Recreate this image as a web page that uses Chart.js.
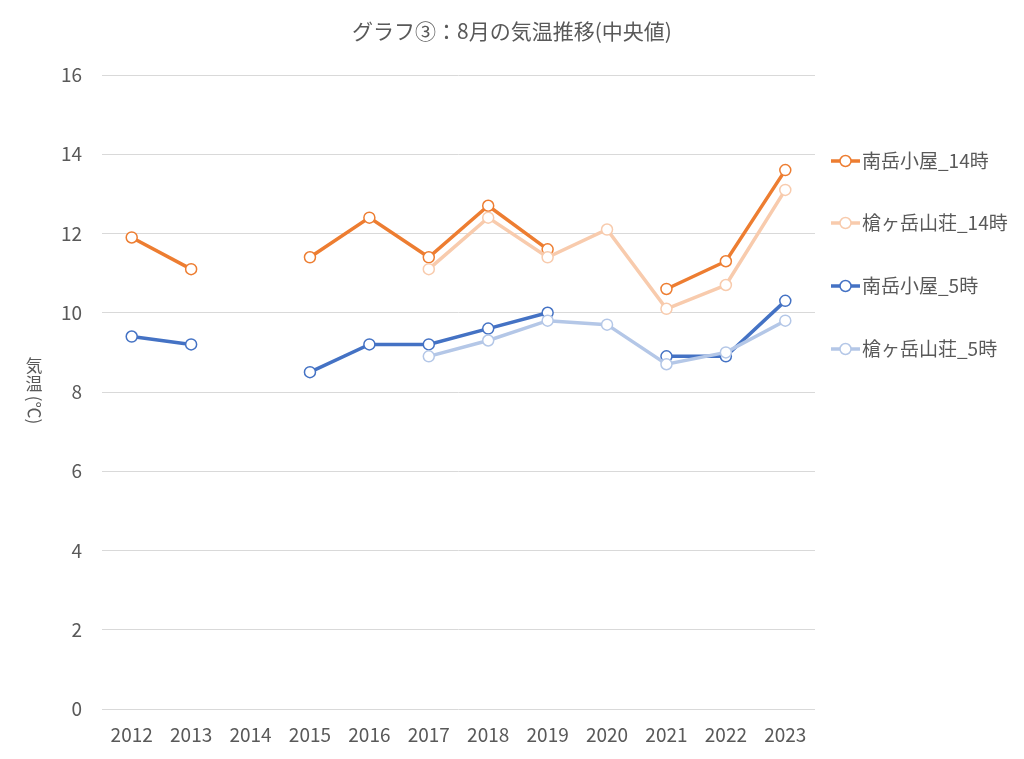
<!DOCTYPE html>
<html>
<head>
<meta charset="utf-8">
<script src="https://cdn.jsdelivr.net/npm/chart.js@4.4.0/dist/chart.umd.min.js"></script>
<style>
  html, body { margin: 0; padding: 0; background: #fff; }
  #wrap { width: 1024px; height: 759px; }
</style>
</head>
<body>
<div id="wrap"><canvas id="grafico" width="1024" height="759"></canvas></div>
<script>
// データ
const anios = ["2012","2013","2014","2015","2016","2017","2018","2019","2020","2021","2022","2023"];
const minamidake14 = [11.9, 11.1, null, 11.4, 12.4, 11.4, 12.7, 11.6, null, 10.6, 11.3, 13.6];
const yarigatake14 = [null, null, null, null, null, 11.1, 12.4, 11.4, 12.1, 10.1, 10.7, 13.1];
const minamidake5  = [9.4, 9.2, null, 8.5, 9.2, 9.2, 9.6, 10.0, null, 8.9, 8.9, 10.3];
const yarigatake5  = [null, null, null, null, null, 8.9, 9.3, 9.8, 9.7, 8.7, 9.0, 9.8];
const nombres = ["南岳小屋_14時", "槍ヶ岳山荘_14時", "南岳小屋_5時", "槍ヶ岳山荘_5時"];
const colores = ["#ED7D31", "#F8CBAD", "#4472C4", "#B4C7E7"];
const titulo = "グラフ③：8月の気温推移(中央値)";
const tituloEje = "気温(℃)";

const FUENTE = "'Noto Sans CJK JP', 'Noto Sans', sans-serif";
const GRIS = "#595959";
Chart.defaults.font.family = FUENTE;
Chart.defaults.color = GRIS;

function serie(i, datos){
    return {
        label: nombres[i],
        data: datos,
        borderColor: colores[i],
        backgroundColor: colores[i],
        borderWidth: 3.5,
        pointRadius: 5.5,
        pointHoverRadius: 5.5,
        pointBorderWidth: 1.5,
        pointBorderColor: colores[i],
        pointBackgroundColor: "#fff",
        spanGaps: false,
        tension: 0,
        order: 3 - i   // Excel: la última serie queda encima
    };
}

// Título, título del eje y leyenda dibujados a mano
const extras = {
    id: "extras",
    afterDraw(chart){
        const ctx = chart.ctx;
        ctx.save();
        ctx.fillStyle = GRIS;

        // título
        ctx.font = "21px " + FUENTE;
        ctx.textAlign = "center";
        ctx.textBaseline = "middle";
        ctx.fillText(titulo, 512, 31);

        // título eje Y (vertical)
        ctx.font = "17px " + FUENTE;
        ctx.fillText(tituloEje[0], 34, 366);
        ctx.fillText(tituloEje[1], 34, 384);
        ctx.translate(34, 410);
        ctx.rotate(Math.PI / 2);
        ctx.fillText(tituloEje.slice(2), 0, 0);
        ctx.restore();

        // leyenda
        ctx.save();
        const ys = [161, 223, 286, 349];
        chart.data.datasets.forEach((ds, i) => {
            const y = ys[i];
            ctx.strokeStyle = ds.borderColor;
            ctx.lineWidth = 3.5;
            ctx.beginPath();
            ctx.moveTo(831, y);
            ctx.lineTo(860, y);
            ctx.stroke();
            ctx.beginPath();
            ctx.arc(845.5, y, 5.5, 0, Math.PI * 2);
            ctx.fillStyle = "#fff";
            ctx.fill();
            ctx.lineWidth = 1.5;
            ctx.stroke();
            ctx.fillStyle = GRIS;
            ctx.font = "19px " + FUENTE;
            ctx.textAlign = "left";
            ctx.textBaseline = "middle";
            ctx.fillText(ds.label, 862, y);
        });
        ctx.restore();
    }
};

new Chart(document.getElementById("grafico").getContext("2d"), {
    type: "line",
    data: {
        labels: anios,
        datasets: [
            serie(0, minamidake14),
            serie(1, yarigatake14),
            serie(2, minamidake5),
            serie(3, yarigatake5)
        ]
    },
    options: {
        responsive: false,
        animation: false,
        layout: { padding: { left: 0, top: 75, right: 209, bottom: 0 } },
        plugins: {
            legend: { display: false },
            title: { display: false },
            tooltip: { enabled: false }
        },
        scales: {
            x: {
                offset: true,
                grid: { display: false, drawTicks: false },
                border: { display: false },
                ticks: { font: { size: 19 }, color: GRIS, padding: 14, maxRotation: 0 },
                afterFit(s){ s.height = 50; }
            },
            y: {
                min: 0,
                max: 16,
                ticks: { stepSize: 2, font: { size: 19 }, color: GRIS, padding: 20 },
                grid: { color: "#d9d9d9", lineWidth: 1, drawTicks: false },
                border: { display: false },
                afterFit(s){ s.width = 102; }
            }
        }
    },
    plugins: [extras]
});
</script>
</body>
</html>
